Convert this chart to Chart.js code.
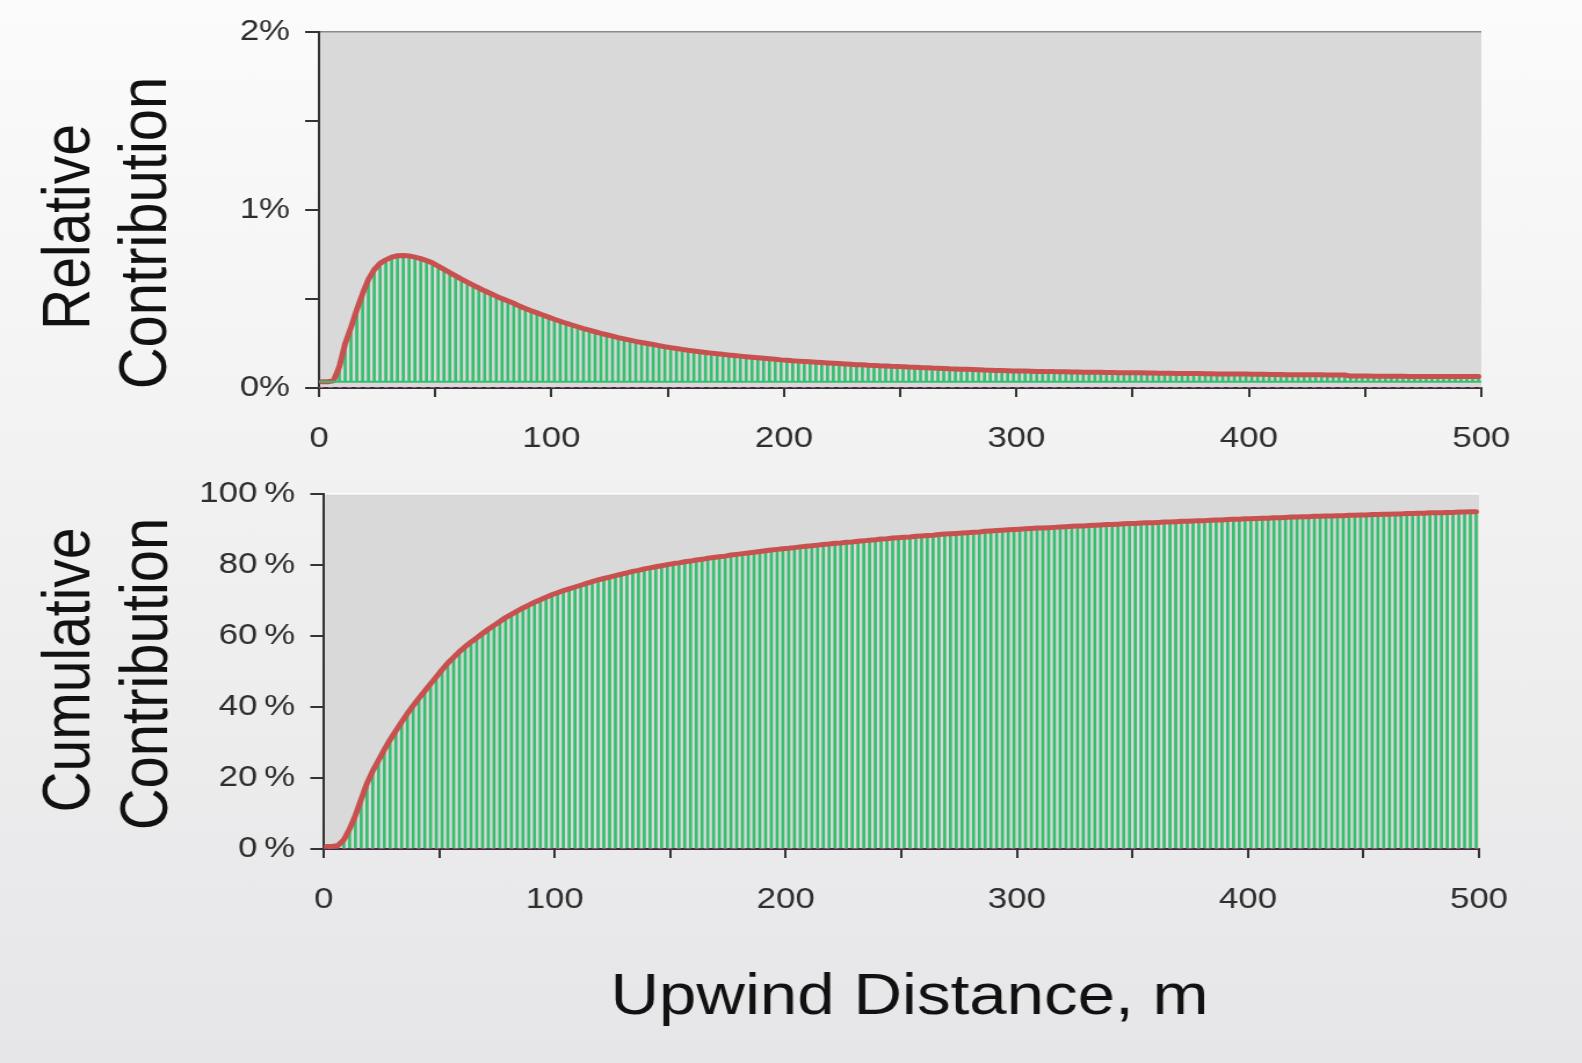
<!DOCTYPE html>
<html>
<head>
<meta charset="utf-8">
<title>Footprint</title>
<script src="https://cdn.jsdelivr.net/npm/chart.js@4.4.1/dist/chart.umd.min.js"></script>
<style>
  html, body { margin: 0; padding: 0; }
  body {
    width: 1582px; height: 1063px; overflow: hidden; position: relative;
    background: linear-gradient(#fbfbfb, #e6e6e8);
  }
  /* the source picture is stretched sideways, so the panels are too */
  .panel { position: absolute; left: 0; width: 1364px; transform: scaleX(1.16); transform-origin: 0 0; }
  #top { top: 0; height: 470px; }
  #bottom { top: 470px; height: 593px; }
</style>
</head>
<body>
<div class="panel" id="top"><canvas id="relChart"></canvas></div>
<div class="panel" id="bottom"><canvas id="cumChart"></canvas></div>
<script>
// footprint bins, m
const binWidth = 2.5;

// relative contribution, % per bin
const relative = [
  0.035, 0.035, 0.04, 0.12, 0.25, 0.34, 0.44, 0.53, 0.61, 0.665, 0.70, 0.72, 0.735, 0.743, 0.745, 0.742, 0.735, 0.727, 0.716, 0.703,
  0.685, 0.667, 0.648, 0.630, 0.612, 0.595, 0.578, 0.562, 0.546, 0.531, 0.516, 0.502, 0.489, 0.476, 0.460, 0.447, 0.434, 0.422, 0.410, 0.398,
  0.386, 0.375, 0.364, 0.354, 0.344, 0.334, 0.325, 0.316, 0.307, 0.299, 0.291, 0.283, 0.276, 0.269, 0.262, 0.256, 0.250, 0.244, 0.238, 0.232,
  0.227, 0.222, 0.217, 0.212, 0.208, 0.204, 0.200, 0.196, 0.192, 0.189, 0.185, 0.182, 0.179, 0.176, 0.173, 0.170, 0.167, 0.164, 0.161, 0.158,
  0.156, 0.153, 0.151, 0.149, 0.147, 0.145, 0.143, 0.141, 0.139, 0.137, 0.135, 0.133, 0.131, 0.130, 0.128, 0.127, 0.125, 0.124, 0.122, 0.121,
  0.120, 0.118, 0.117, 0.115, 0.114, 0.112, 0.111, 0.110, 0.108, 0.107, 0.106, 0.105, 0.104, 0.103, 0.101, 0.100, 0.099, 0.098, 0.097, 0.096,
  0.095, 0.095, 0.094, 0.093, 0.093, 0.092, 0.092, 0.091, 0.091, 0.090, 0.090, 0.089, 0.089, 0.088, 0.088, 0.087, 0.087, 0.086, 0.086, 0.085,
  0.085, 0.085, 0.084, 0.084, 0.083, 0.083, 0.083, 0.082, 0.082, 0.081, 0.081, 0.081, 0.080, 0.080, 0.079, 0.079, 0.079, 0.078, 0.078, 0.078,
  0.077, 0.077, 0.077, 0.076, 0.076, 0.076, 0.075, 0.075, 0.075, 0.074, 0.074, 0.074, 0.074, 0.073, 0.073, 0.073, 0.073,
  0.067, 0.067, 0.067, 0.067, 0.066, 0.066, 0.066, 0.066, 0.066, 0.066, 0.065, 0.065, 0.065, 0.065, 0.065, 0.065, 0.065,
  0.064, 0.064, 0.064, 0.064, 0.064, 0.064
];

// cumulative contribution, %
const cumulative = [
  0.7, 0.7, 1.0, 2.6, 5.7, 9.5, 14.0, 18.5, 22.0, 25.0, 28.0, 30.8, 33.3, 35.8, 38.2, 40.4, 42.5, 44.5, 46.5, 48.5,
  50.5, 52.4, 54.0, 55.6, 57.0, 58.3, 59.5, 60.7, 61.9, 63.0, 64.1, 65.2, 66.1, 67.0, 67.9, 68.7, 69.5, 70.2, 70.9, 71.6,
  72.2, 72.8, 73.3, 73.8, 74.3, 74.8, 75.3, 75.8, 76.2, 76.6, 77.0, 77.4, 77.8, 78.2, 78.5, 78.9, 79.2, 79.5, 79.8, 80.1,
  80.4, 80.6, 80.9, 81.1, 81.4, 81.6, 81.9, 82.1, 82.3, 82.5, 82.8, 83.0, 83.2, 83.4, 83.6, 83.8, 84.0, 84.2, 84.4, 84.6,
  84.7, 84.9, 85.1, 85.3, 85.4, 85.6, 85.8, 85.9, 86.1, 86.2, 86.4, 86.5, 86.7, 86.8, 87.0, 87.1, 87.3, 87.4, 87.6, 87.7,
  87.8, 87.9, 88.1, 88.2, 88.3, 88.4, 88.6, 88.7, 88.8, 88.9, 89.0, 89.1, 89.2, 89.3, 89.5, 89.6, 89.7, 89.8, 89.9, 90.0,
  90.1, 90.2, 90.3, 90.4, 90.4, 90.5, 90.6, 90.7, 90.8, 90.9, 91.0, 91.0, 91.1, 91.2, 91.3, 91.4, 91.4, 91.5, 91.6, 91.7,
  91.7, 91.8, 91.9, 91.9, 92.0, 92.1, 92.1, 92.2, 92.3, 92.3, 92.4, 92.5, 92.5, 92.6, 92.7, 92.7, 92.8, 92.9, 92.9, 93.0,
  93.0, 93.1, 93.2, 93.2, 93.3, 93.3, 93.4, 93.5, 93.5, 93.6, 93.6, 93.7, 93.7, 93.8, 93.8, 93.9, 93.9, 94.0, 94.0, 94.1,
  94.1, 94.2, 94.2, 94.3, 94.3, 94.4, 94.4, 94.5, 94.5, 94.6, 94.6, 94.7, 94.7, 94.7, 94.8, 94.8, 94.9, 94.9, 95.0, 95.0
];

const xRange = [0, 500];
const xTicks = [0, 100, 200, 300, 400, 500];
const relTicks = [0, 1, 2];
const cumTicks = [0, 20, 40, 60, 80, 100];
const relFloor = 0.035; // bars of the upper panel stand on this level

const distances = relative.map((_, i) => (i + 0.5) * binWidth);
const pts = arr => arr.map((v, i) => ({ x: distances[i], y: v }));

const GREEN = '#35bf6e';
const RED = '#c8514f';
const AXIS = '#333';
const FONT = '"Liberation Sans", Arial, sans-serif';

// grey plot area, a thin frame line on top and the free-standing titles
const plotFrame = {
    id: 'plotFrame',
    beforeDraw(chart, args, o) {
        const { ctx, chartArea: a } = chart;
        ctx.save();
        ctx.fillStyle = '#d9d9d9';
        ctx.fillRect(a.left, a.top, a.right - a.left, a.bottom - a.top);
        if (o.topLine) {
            ctx.fillStyle = o.topLine;
            ctx.fillRect(a.left, a.top - 1, a.right - a.left, 1.5);
        }
        ctx.restore();
    },
    afterDraw(chart, args, o) {
        const ctx = chart.ctx;
        (o.titles || []).forEach(t => {
            ctx.save();
            ctx.translate(t.x, t.y);
            if (t.rotate) ctx.rotate(-Math.PI / 2);
            ctx.font = t.font;
            ctx.fillStyle = '#111';
            ctx.textAlign = 'center';
            ctx.textBaseline = t.baseline || 'middle';
            ctx.fillText(t.text, 0, 0);
            ctx.restore();
        });
    }
};

function xAxis(height) {
    return {
        type: 'linear',
        min: xRange[0],
        max: xRange[1],
        offset: false,
        afterFit: s => { s.height = height; },
        border: { display: true, color: AXIS, width: 2 },
        grid: { offset: false, drawOnChartArea: false, drawTicks: true, tickLength: 9, color: AXIS, lineWidth: 2 },
        ticks: {
            stepSize: 50,
            autoSkip: false,
            maxRotation: 0,
            padding: 24,
            color: '#2e2e2e',
            font: { family: FONT, size: 30 },
            callback: v => xTicks.includes(v) ? String(v) : ''
        }
    };
}

function yAxis(width, max, step, tickLen, label) {
    return {
        min: 0,
        max: max,
        // fixed width, and let the end labels hang over the padding
        afterFit: s => { s.width = width; s.paddingTop = 0; s.paddingBottom = 0; },
        border: { display: true, color: AXIS, width: 2 },
        grid: { drawOnChartArea: false, drawTicks: true, tickLength: tickLen, color: AXIS, lineWidth: 2 },
        ticks: {
            stepSize: step,
            autoSkip: false,
            padding: 13,
            color: '#2e2e2e',
            font: { family: FONT, size: 30 },
            callback: label
        }
    };
}

function baseLine(y, color, width, dash) {
    return {
        type: 'line',
        data: [{ x: xRange[0], y: y }, { x: xRange[1], y: y }],
        borderColor: color,
        borderWidth: width,
        borderDash: dash || [],
        pointRadius: 0,
        order: 0
    };
}

const common = {
    responsive: true,
    maintainAspectRatio: false,
    animation: false,
    events: [],
    plugins: { legend: { display: false }, tooltip: { enabled: false } }
};

new Chart(document.getElementById('relChart'), {
    type: 'bar',
    data: {
        datasets: [
            {
                type: 'line',
                data: pts(relative),
                borderColor: RED,
                borderWidth: 5,
                borderJoinStyle: 'round',
                borderCapStyle: 'round',
                pointRadius: 0,
                tension: 0,
                order: 1
            },
            baseLine(relFloor, GREEN, 2),
            baseLine(0, '#b0408a', 2, [4, 4]),
            {
                data: pts(relative),
                backgroundColor: GREEN,
                barThickness: 2,
                base: relFloor,
                order: 2
            }
        ]
    },
    options: {
        ...common,
        layout: { padding: { top: 32, right: 87, bottom: 0, left: 0 } },
        scales: {
            x: xAxis(82),
            y: yAxis(275, 2, 0.5, 12, v => relTicks.includes(v) ? v + '%' : '')
        },
        plugins: {
            ...common.plugins,
            plotFrame: {
                topLine: '#8a8a8a',
                titles: [
                    { text: 'Relative', x: 61, y: 227, rotate: true, font: '57px ' + FONT },
                    { text: 'Contribution', x: 127, y: 233, rotate: true, font: '58px ' + FONT }
                ]
            }
        }
    },
    plugins: [plotFrame]
});

new Chart(document.getElementById('cumChart'), {
    type: 'bar',
    data: {
        datasets: [
            {
                type: 'line',
                data: pts(cumulative),
                borderColor: RED,
                borderWidth: 5,
                borderJoinStyle: 'round',
                borderCapStyle: 'round',
                pointRadius: 0,
                tension: 0,
                order: 1
            },
            baseLine(0, '#b0408a', 2, [4, 4]),
            {
                data: pts(cumulative),
                backgroundColor: GREEN,
                barThickness: 2,
                order: 2
            }
        ]
    },
    options: {
        ...common,
        layout: { padding: { top: 24, right: 89, bottom: 0, left: 0 } },
        scales: {
            x: xAxis(214),
            y: yAxis(279, 100, 20, 11.5, v => cumTicks.includes(v) ? v + '\u2009%' : '')
        },
        plugins: {
            ...common.plugins,
            plotFrame: {
                topLine: '#ffffff',
                titles: [
                    { text: 'Cumulative', x: 61, y: 200, rotate: true, font: '57px ' + FONT },
                    { text: 'Contribution', x: 128, y: 204, rotate: true, font: '58px ' + FONT },
                    { text: 'Upwind Distance, m', x: 784, y: 544, baseline: 'alphabetic', font: '58px ' + FONT }
                ]
            }
        }
    },
    plugins: [plotFrame]
});
</script>
</body>
</html>
